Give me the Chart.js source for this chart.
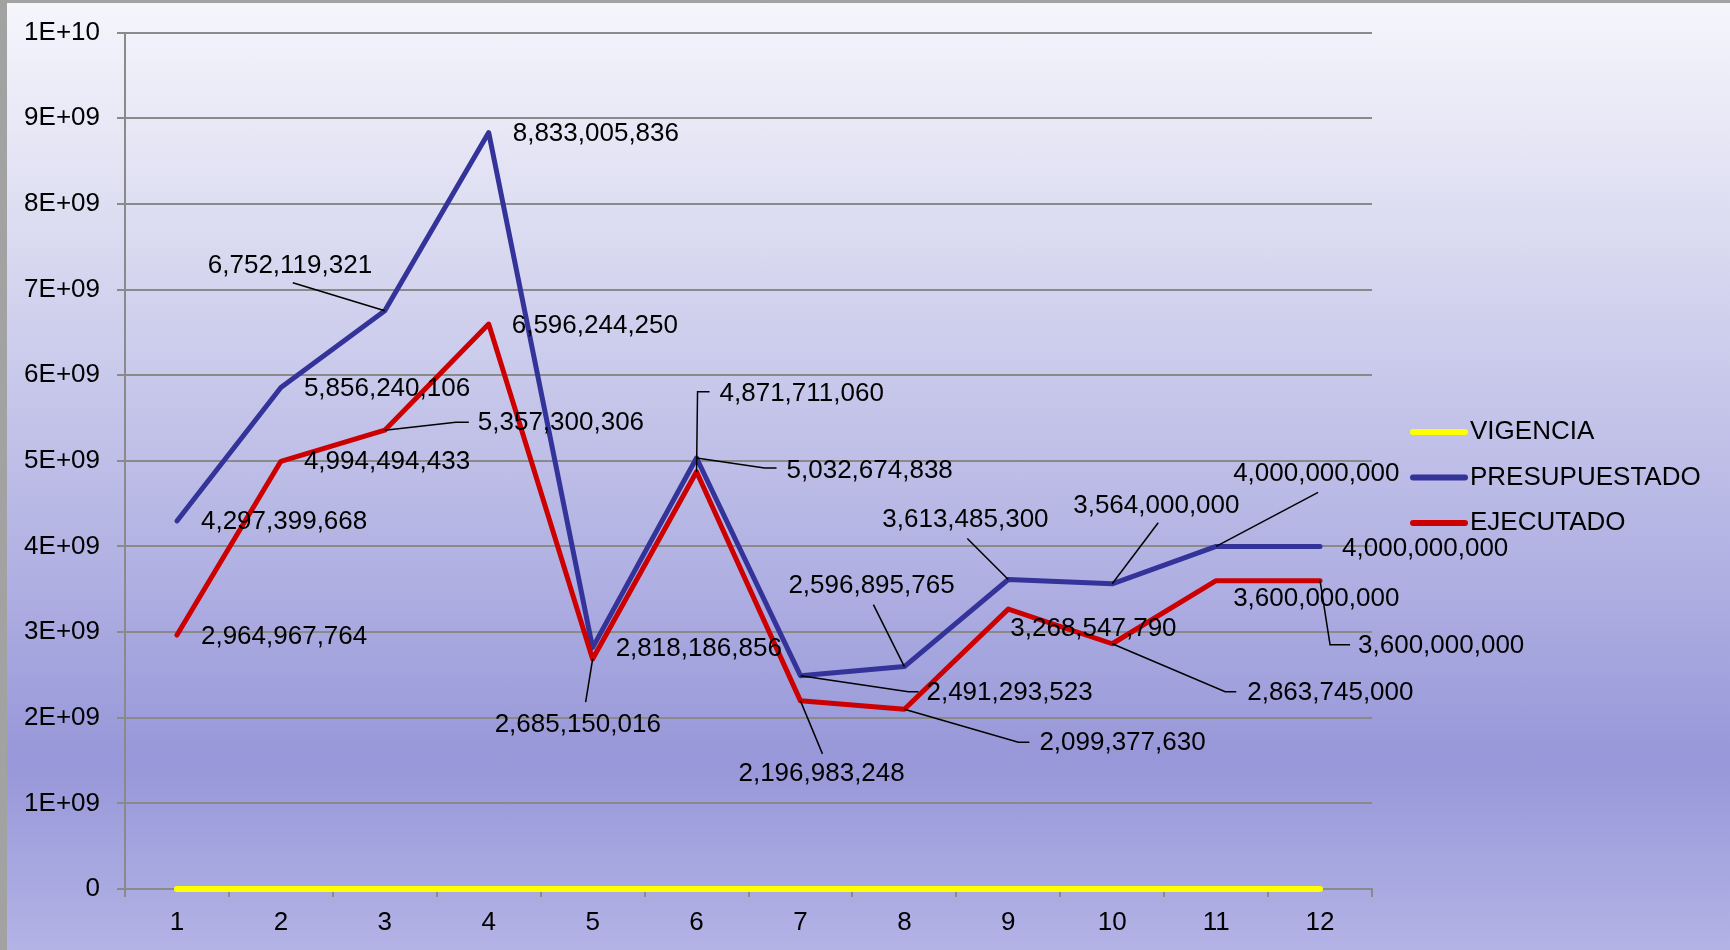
<!DOCTYPE html>
<html lang="es">
<head>
  <meta charset="UTF-8">
  <title>Vigencia / Presupuestado / Ejecutado</title>
  <script src="https://cdn.jsdelivr.net/npm/chart.js"></script>
  <style>
    html, body { margin: 0; padding: 0; width: 1730px; height: 950px; overflow: hidden; background: #a2a2a2; }
    .fondo {
      position: absolute; left: 7px; top: 3px; right: 0; bottom: 0;
      background: linear-gradient(to bottom, #f5f5fc 0%, #e0e0f3 20%, #c2c2e9 45%, #aeaee2 62%, #9797d9 80%, #b3b3e6 100%);
    }
    #grafico { position: absolute; left: 0; top: 0; }
  </style>
</head>
<body>
  <div class="fondo"></div>
  <canvas id="grafico" width="1730" height="950"></canvas>

  <script>
    const meses = ['1', '2', '3', '4', '5', '6', '7', '8', '9', '10', '11', '12'];
    const vigencia = [0, 0, 0, 0, 0, 0, 0, 0, 0, 0, 0, 0];
    const presupuestado = [4297399668, 5856240106, 6752119321, 8833005836, 2818186856, 5032674838,
      2491293523, 2596895765, 3613485300, 3564000000, 4000000000, 4000000000];
    const ejecutado = [2964967764, 4994494433, 5357300306, 6596244250, 2685150016, 4871711060,
      2196983248, 2099377630, 3268547790, 2863745000, 3600000000, 3600000000];
    const etiquetasY = ['0', '1E+09', '2E+09', '3E+09', '4E+09', '5E+09', '6E+09', '7E+09', '8E+09', '9E+09', '1E+10'];

    // donde va cada etiqueta respecto a su punto (dx, dy) y la linea guia
    const posPresupuestado = [
      [24, 1], [23, 1], [-177, -45, [[-92, -28]]], [24, 1], [23, 1], [90, 13, [[68, 10], [80, 10]]],
      [126, 17, [[108, 16], [118, 16]]], [-116, -81, [[-31, -62]]], [-126, -60, [[-41, -41]]],
      [-39, -78, [[46, -61]]], [17, -73, [[102, -54]]], [22, 2]
    ];
    const posEjecutado = [
      [24, 2], [23, 1], [93, -7, [[71, -8], [84, -8]]], [23, 2], [-98, 66, [[-7, 43]]],
      [23, -78, [[1, -80], [13, -80]]], [-62, 73, [[22, 53]]], [135, 34, [[114, 33], [125, 33]]],
      [2, 20], [135, 49, [[113, 48], [124, 48]]], [17, 18], [38, 65, [[10, 64], [30, 64]]]
    ];

    const fuente = "'Liberation Sans', Arial, sans-serif";
    const gris = '#8a8a8a';

    const etiquetasDatos = {
      id: 'etiquetasDatos',
      afterDatasetsDraw(chart) {
        const ctx = chart.ctx;
        const grupos = [[1, posPresupuestado], [2, posEjecutado]];
        ctx.save();
        ctx.font = '26px ' + fuente;
        ctx.fillStyle = '#000';
        ctx.strokeStyle = '#000';
        ctx.lineWidth = 1.5;
        ctx.textAlign = 'left';
        ctx.textBaseline = 'middle';
        grupos.forEach(([ds, pos]) => {
          const meta = chart.getDatasetMeta(ds);
          meta.data.forEach((p, i) => {
            const [dx, dy, guia] = pos[i];
            if (guia) {
              ctx.beginPath();
              ctx.moveTo(p.x, p.y);
              guia.forEach(([gx, gy]) => ctx.lineTo(p.x + gx, p.y + gy));
              ctx.stroke();
            }
            const valor = chart.data.datasets[ds].data[i];
            ctx.fillText(valor.toLocaleString('en-US'), p.x + dx, p.y + dy);
          });
        });
        ctx.restore();
      }
    };

    // leyenda a la derecha
    const leyenda = {
      id: 'leyenda',
      afterDraw(chart) {
        const ctx = chart.ctx;
        ctx.save();
        ctx.font = '26px ' + fuente;
        ctx.textBaseline = 'middle';
        ctx.lineCap = 'round';
        ctx.lineWidth = 6;
        chart.data.datasets.forEach((d, i) => {
          const y = 432 + i * 45.5;
          ctx.strokeStyle = d.borderColor;
          ctx.beginPath();
          ctx.moveTo(1413, y);
          ctx.lineTo(1465, y);
          ctx.stroke();
          ctx.fillStyle = '#000';
          ctx.fillText(d.label, 1470, y);
        });
        ctx.restore();
      }
    };

    new Chart(document.getElementById('grafico'), {
      type: 'line',
      data: {
        labels: meses,
        datasets: [
          { label: 'VIGENCIA', data: vigencia, borderColor: '#ffff00', borderWidth: 6, order: 2, clip: false },
          { label: 'PRESUPUESTADO', data: presupuestado, borderColor: '#333399', borderWidth: 5, order: 1, clip: false },
          { label: 'EJECUTADO', data: ejecutado, borderColor: '#cc0000', borderWidth: 5, order: 0, clip: false }
        ]
      },
      options: {
        responsive: false,
        animation: false,
        devicePixelRatio: 1,
        layout: { padding: { left: 0, top: 32, right: 358, bottom: 0 } },
        elements: {
          point: { radius: 0, hoverRadius: 0 },
          line: { tension: 0, borderCapStyle: 'round', borderJoinStyle: 'round' }
        },
        plugins: {
          legend: { display: false },
          tooltip: { enabled: false }
        },
        scales: {
          x: {
            offset: true,
            grid: { drawOnChartArea: false, offset: true, color: gris, lineWidth: 2, tickLength: 8 },
            border: { color: gris, width: 2 },
            ticks: { color: '#000', font: { size: 26, family: fuente }, padding: 10, maxRotation: 0 },
            afterFit(scale) { scale.height = 61; }
          },
          y: {
            min: 0,
            max: 10000000000,
            ticks: {
              stepSize: 1000000000,
              color: '#000',
              font: { size: 26, family: fuente },
              padding: 17,
              callback: (v, i) => etiquetasY[i]
            },
            grid: { color: gris, lineWidth: 2, tickLength: 8 },
            border: { color: gris, width: 2 },
            afterFit(scale) { scale.width = 125; }
          }
        }
      },
      plugins: [etiquetasDatos, leyenda]
    });
  </script>
</body>
</html>
